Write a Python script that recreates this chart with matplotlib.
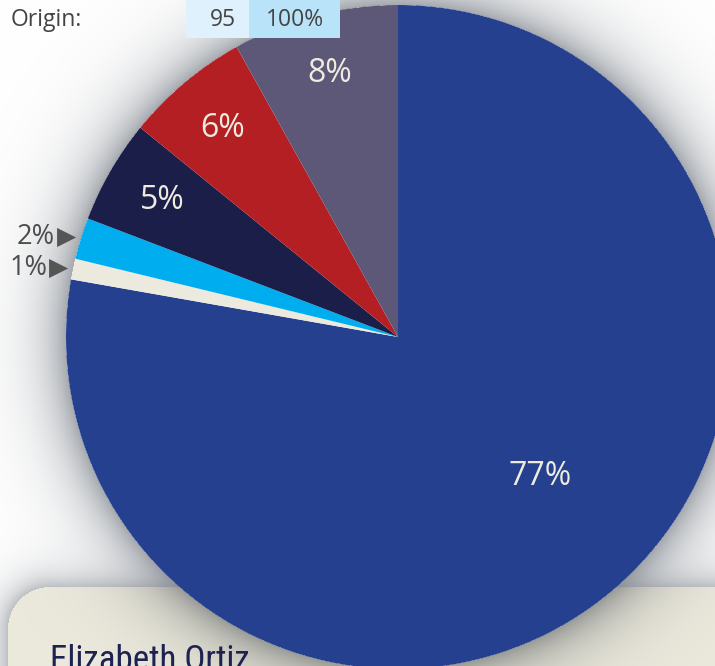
import numpy as np
import matplotlib.pyplot as plt
from matplotlib.patches import Rectangle

W, H = 715, 666

# slices, clockwise from 12 o'clock
shares = [77, 1, 2, 5, 6, 8]
colors = ['#25408F', '#ECEADF', '#00AEEF', '#1C1E4A', '#B41F24', '#5E5878']
outside = [False, True, True, False, False, False]

row_label = 'Origin:'
row_cells = ['95', '100%']
cell_colors = ['#DEF1FC', '#B9E3F8']
name = 'Elizabeth Ortiz'

cx, cy, R = 398, 329, 332      # pie centre / radius in pixels (y up)
box_x, box_top, box_rc = 8, 79, 42

# background with soft shadows
yy, xx = np.mgrid[0:H, 0:W] + 0.5
yu = H - yy
d_pie = np.hypot(xx - cx, yu - cy) - R
pie_sh = np.where(d_pie > 0, 0.55 * np.exp(-np.clip(d_pie, 0, None) / 28), 0)

qx = np.clip(box_x + box_rc - xx, 0, None)
qy = np.clip(yu - (box_top - box_rc), 0, None)
d_box = np.hypot(qx, qy) - box_rc
in_box = d_box <= 0
box_sh = np.where(in_box, 0, 0.4 * np.exp(-np.clip(d_box, 0, None) / 16))

base = np.ones((H, W, 3))
base[in_box] = [0.925, 0.915, 0.865]
a = 1 - (1 - pie_sh) * (1 - box_sh)
shade = np.array([0.36, 0.39, 0.43])
img = base * (1 - a[..., None] * (1 - shade))

fig = plt.figure(figsize=(W / 100, H / 100), dpi=100)
ax = fig.add_axes([0, 0, 1, 1])
ax.imshow(img, extent=(0, W, 0, H), origin='upper', zorder=0)

wedges, _ = ax.pie(shares, colors=colors, startangle=90, counterclock=False,
                   center=(cx, cy), radius=R, frame=True,
                   wedgeprops=dict(linewidth=0))

for w, s, o in zip(wedges, shares, outside):
    if o:
        ang = np.deg2rad((w.theta1 + w.theta2) / 2)
        tx, ty = cx + 1.015 * R * np.cos(ang), cy + 1.015 * R * np.sin(ang)
        ax.text(tx, ty, '▶', ha='right', va='center', fontsize=18,
                color='#555555', family='DejaVu Sans', zorder=4)
        ax.text(tx - 21, ty, f'{s}%', ha='right', va='center', fontsize=19.5,
                color='#4d4d4d', family='Open Sans', zorder=4)
        continue
    frac, k = (0.52, 0.6) if s > 50 else (0.5, 0.82)
    ang = np.deg2rad(w.theta1 + frac * (w.theta2 - w.theta1))
    ax.text(cx + k * R * np.cos(ang), cy + k * R * np.sin(ang), f'{s}%',
            ha='center', va='center', fontsize=23, color='#EFECDF',
            family='Open Sans', zorder=4)

# table row at top
cell_x = [186, 249]
cell_w = [63, 91]
cell_h = 38
for x0, cw, txt, c in zip(cell_x, cell_w, row_cells, cell_colors):
    ax.add_patch(Rectangle((x0, H - cell_h), cw, cell_h, facecolor=c,
                           edgecolor='none', zorder=3))
    ax.text(x0 + cw / 2 + (5 if txt == '95' else 0), H - 20, txt, ha='center',
            va='center', fontsize=16.5, color='#444444', family='Open Sans', zorder=4)
ax.text(11, H - 20, row_label, ha='left', va='center', fontsize=16.5,
        color='#444444', family='Open Sans', zorder=4)

nm = ax.text(50, -4, name, ha='left', va='baseline', fontsize=30, color='#1E2251',
             family=['Roboto Condensed', 'DejaVu Sans Condensed',
                     'Liberation Sans Narrow', 'DejaVu Sans'], zorder=4)

ax.set_xlim(0, W)
ax.set_ylim(0, H)
ax.set_aspect('equal')
ax.axis('off')

# fit the name roughly to its width in the reference
fig.canvas.draw()
wpx = nm.get_window_extent().width
nm.set_fontsize(30 * 200 / wpx)

fig.savefig('out.png', dpi=100)
